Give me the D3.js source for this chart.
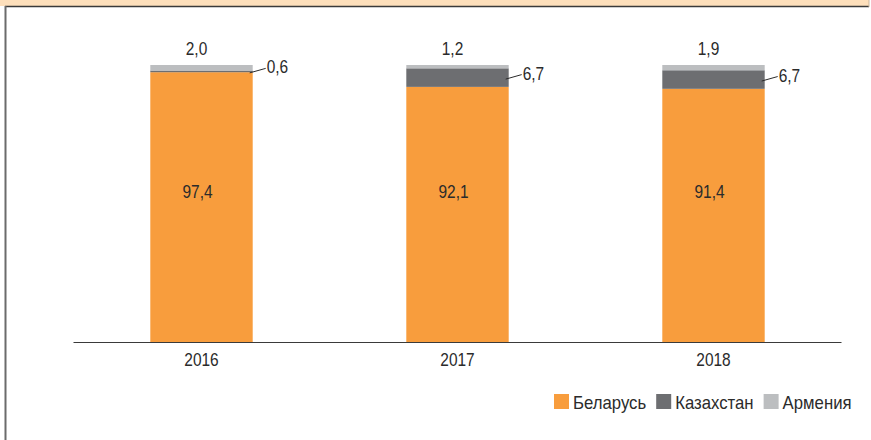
<!DOCTYPE html>
<html>
<head>
<meta charset="utf-8">
<script src="https://cdn.jsdelivr.net/npm/d3@7"></script>
<style>
  body { margin: 0; background: #fff; }
  svg text { font-family: "Liberation Sans Narrow", "Liberation Sans", Arial, sans-serif; fill: #2b2b2b; }
</style>
</head>
<body>
<div id="chart"></div>
<script>
// data
let years = ["2016", "2017", "2018"];
let belarus = [97.4, 92.1, 91.4];
let kazakhstan = [0.6, 6.7, 6.7];
let armenia = [2.0, 1.2, 1.9];
let seriesNames = ["Беларусь", "Казахстан", "Армения"];
let colors = ["#f89d3d", "#6d6e71", "#bcbec0"];

let width = 871, height = 440;
let fmt = v => v.toFixed(1).replace(".", ",");
// the original font is narrower than the installed ones, squeeze a bit
let squeeze = 0.86;

let svg = d3.select("#chart").append("svg")
    .attr("width", width)
    .attr("height", height);

function label(px, py, txt, anchor, sx) {
    return svg.append("text")
        .attr("transform", `translate(${px},${py}) scale(${sx || squeeze},1)`)
        .attr("text-anchor", anchor || "start")
        .attr("font-size", 18)
        .text(txt);
}

// frame: peach band on top, dark line under it, grey line on the left
svg.append("rect").attr("x", 0).attr("y", 0).attr("width", 869).attr("height", 6).attr("fill", "#fddfbb");
svg.append("line").attr("x1", 5).attr("x2", 869).attr("y1", 6.5).attr("y2", 6.5).attr("stroke", "#3a3a3a").attr("stroke-width", 1.5);
svg.append("line").attr("x1", 869).attr("x2", 869).attr("y1", 0).attr("y2", 7).attr("stroke", "#c9b59c").attr("stroke-width", 1);
svg.append("line").attr("x1", 5.5).attr("x2", 5.5).attr("y1", 6).attr("y2", height).attr("stroke", "#6b6b6b").attr("stroke-width", 2);

let x = d3.scaleBand()
    .domain(years)
    .range([73.5, 841.5])
    .paddingInner(0.6)
    .paddingOuter(0.3);

let y = d3.scaleLinear()
    .domain([0, 100])
    .range([342, 65]);

let rows = years.map((yr, i) => ({year: yr, values: [belarus[i], kazakhstan[i], armenia[i]]}));
let stacked = d3.stack().keys([0, 1, 2]).value((d, k) => d.values[k])(rows);

svg.append("g").selectAll("g")
    .data(stacked)
    .enter().append("g")
    .attr("fill", (d, i) => colors[i])
    .selectAll("rect")
    .data(d => d)
    .enter().append("rect")
    .attr("x", d => x(d.data.year))
    .attr("width", x.bandwidth())
    .attr("y", d => y(d[1]))
    .attr("height", d => y(d[0]) - y(d[1]));

// axis line
svg.append("line")
    .attr("x1", x.range()[0]).attr("x2", x.range()[1])
    .attr("y1", y(0) + 0.5).attr("y2", y(0) + 0.5)
    .attr("stroke", "#3a3a3a").attr("stroke-width", 1.2);

rows.forEach(d => {
    let cx = x(d.year) + x.bandwidth() / 2;
    let right = x(d.year) + x.bandwidth();

    // year under the axis
    label(cx, 366, d.year, "middle");
    // Belarus value inside the bar
    label(cx - 4, 198, fmt(d.values[0]), "middle");
    // Armenia value above the bar
    label(cx - 5, y(100) - 10, fmt(d.values[2]), "middle");

    // Kazakhstan value with leader line
    let mid = (y(d.values[0]) + y(d.values[0] + d.values[1])) / 2;
    let base = Math.max(y(100) + 5, mid + 1);
    svg.append("line")
        .attr("x1", right - 3).attr("y1", mid + 1.5)
        .attr("x2", right + 13).attr("y2", base - 4)
        .attr("stroke", "#2b2b2b").attr("stroke-width", 1);
    label(right + 14, base + 1, fmt(d.values[1]));
});

// legend
let lx = 554;
seriesNames.forEach((name, i) => {
    svg.append("rect")
        .attr("x", lx).attr("y", 394)
        .attr("width", 15).attr("height", 15)
        .attr("fill", colors[i]);
    let t = label(lx + 19, 408.5, name, "start", 0.93);
    lx += 19 + t.node().getComputedTextLength() * 0.93 + 10;
});
</script>
</body>
</html>
